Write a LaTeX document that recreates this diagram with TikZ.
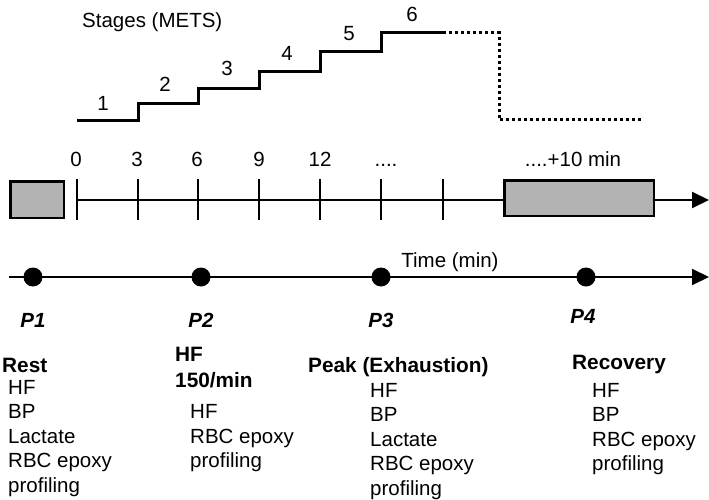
\documentclass[tikz,border=0pt]{standalone}
\usepackage{fontspec}
\setmainfont{Liberation Sans}
\usetikzlibrary{arrows.meta, positioning}
\definecolor{boxgray}{RGB}{179,179,179}
\begin{document}
\begin{tikzpicture}[
    x=1pt, y=-1pt,
    txt/.style={inner sep=0pt, font=\fontsize{20.5}{24.5}\selectfont},
    head/.style={inner sep=0pt, font=\fontsize{20.8}{25.5}\selectfont\bfseries, align=left},
    items/.style={txt, align=left},
    plabel/.style={inner sep=0pt, font=\fontsize{20.5}{24.5}\selectfont\bfseries\itshape},
    stair/.style={line width=3pt},
    stairrest/.style={line width=3pt, dash pattern=on 3pt off 3pt},
    phase/.style={draw, line width=2.5pt, fill=boxgray, inner sep=0pt},
    tick/.style={line width=2.5pt},
    axis/.style={line width=2pt, -{Triangle[length=17pt, width=16pt]}},
    dot/.style={circle, fill=black, inner sep=0pt, minimum size=19pt}
  ]
  \useasboundingbox (0,0) rectangle (709,500);

  \node[txt, anchor=west] (stages) at (82,22) {Stages (METS)};
  \draw[stair] (77,121) -- (138,121) -- (138,104) -- (198,104) -- (198,89) -- (259,89)
    -- (259,72) -- (320,72) -- (320,52) -- (381,52) -- (381,33) -- (443,33);
  \draw[stairrest] (443,33) -- (499,33) -- (499,120) -- (643,120);
  \node[txt] (st1) at (103,103) {1};
  \node[txt] (st2) at (165,84) {2};
  \node[txt] (st3) at (227,68) {3};
  \node[txt] (st4) at (287,53) {4};
  \node[txt] (st5) at (349,34) {5};
  \node[txt] (st6) at (412,14) {6};

  \coordinate (t0) at (77,200);
  \coordinate (tend) at (709,200);
  \draw[axis] (t0) -- (tend);
  \node[phase, minimum width=53.5pt, minimum height=36.5pt] (pre) at (37,199.5) {};
  \node[phase, minimum width=149.5pt, minimum height=35.5pt] (post) at (579,198) {};
  \draw[tick] (77,179) -- (77,220);
  \draw[tick] (138,179) -- (138,220);
  \draw[tick] (198,179) -- (198,220);
  \draw[tick] (259,179) -- (259,220);
  \draw[tick] (320,179) -- (320,220);
  \draw[tick] (381,179) -- (381,220);
  \draw[tick] (443,179) -- (443,220);
  \node[txt, anchor=base] (m0) at (76,166) {0};
  \node[txt, anchor=base] (m3) at (137,166) {3};
  \node[txt, anchor=base] (m6) at (197,166) {6};
  \node[txt, anchor=base] (m9) at (259,166) {9};
  \node[txt, anchor=base] (m12) at (320,166) {12};
  \node[txt, anchor=base] (mdots) at (386,166) {....};
  \node[txt, anchor=base] (mrec) at (573,166) {....+10 min};

  \coordinate (a0) at (9,277);
  \coordinate (aend) at (709,277);
  \draw[axis] (a0) -- (aend);
  \node[txt] (time) at (450,262) {Time (min)};
  \node[dot] (d1) at (33,277) {};
  \node[dot] (d2) at (201,277) {};
  \node[dot] (d3) at (381,277) {};
  \node[dot] (d4) at (586,277) {};
  \node[plabel, below=26pt of d1] (p1) {P1};
  \node[plabel, below=26pt of d2] (p2) {P2};
  \node[plabel, below=26pt of d3] (p3) {P3};
  \node[plabel, below=22pt of d4, xshift=-3pt] (p4) {P4};

  \node[head, anchor=base west] (rest) at (2,372) {Rest};
  \node[items, anchor=base west] (restlist) at (8,492) {HF\\BP\\Lactate\\RBC epoxy\\profiling};
  \node[head, anchor=base west] (hf) at (175,387) {HF\\150/min};
  \node[items, anchor=base west] (hflist) at (190,467.5) {HF\\RBC epoxy\\profiling};
  \node[head, anchor=base west] (peak) at (308,372) {Peak (Exhaustion)};
  \node[items, anchor=base west] (peaklist) at (370,495) {HF\\BP\\Lactate\\RBC epoxy\\profiling};
  \node[head, anchor=base west] (recovery) at (572,369) {Recovery};
  \node[items, anchor=base west] (recoverylist) at (592,470.5) {HF\\BP\\RBC epoxy\\profiling};
\end{tikzpicture}
\end{document}
